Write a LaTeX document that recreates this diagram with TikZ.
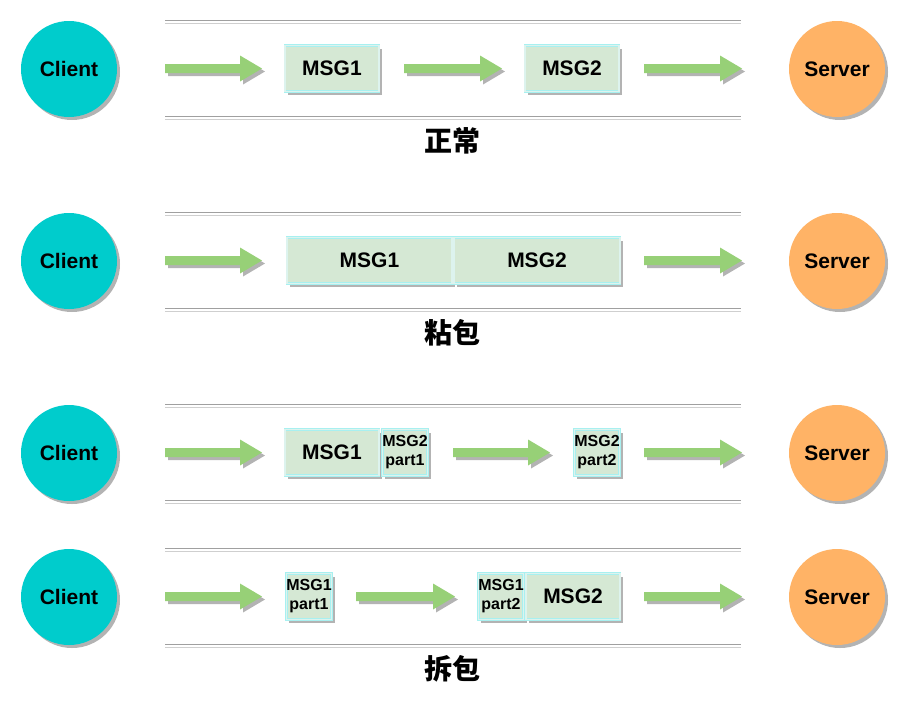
\documentclass[tikz,border=0pt]{standalone}
\usepackage{fontspec}
\setmainfont{Liberation Sans}
\newfontfamily\cjk{Noto Sans CJK SC}
\usetikzlibrary{shadows}
\definecolor{cli}{HTML}{00CCCC}
\definecolor{srv}{HTML}{FFB366}
\definecolor{msgf}{HTML}{D5E8D4}
\definecolor{msgd}{HTML}{A8F0F0}
\definecolor{msgi}{HTML}{DDF3EE}
\definecolor{arr}{HTML}{97D077}
\definecolor{shd}{HTML}{B3B3B3}
\definecolor{railA}{HTML}{A0A0A0}
\definecolor{railB}{HTML}{CFCFCF}
\tikzset{
 sh/.style={drop shadow={shadow xshift=3pt,shadow yshift=-3pt,fill=shd,opacity=1}},
 endpt/.style={circle, minimum size=96pt, inner sep=0pt, font=\bfseries\fontsize{21}{21}\selectfont, sh},
 client/.style={endpt, fill=cli},
 server/.style={endpt, fill=srv},
 msg/.style={draw=msgd, line width=0.8pt, double=msgi, double distance=1.2pt, fill=msgf, minimum height=46pt, inner sep=0pt, font=\bfseries\fontsize{21}{21}\selectfont, sh},
 part/.style={msg, minimum width=45pt, font=\bfseries\fontsize{16}{19}\selectfont, align=center},
 railtop/.style={draw=railA, line width=1pt},
 railbot/.style={draw=railB, line width=1pt},
 ttl/.style={font=\cjk\bfseries\fontsize{28}{28}\selectfont},
 garrow/.style={fill=arr, sh}
}
\newcommand\garr[3]{%
 \fill[garrow] (#1,#3-4.5) -- (#2-22,#3-4.5) -- (#2-22,#3-13) -- (#2,#3) -- (#2-22,#3+13) -- (#2-22,#3+4.5) -- (#1,#3+4.5) -- cycle;}
\newcommand\rails[2]{%
 \draw[railtop] (165,#1) -- (741,#1);
 \draw[railbot] (165,#1+3) -- (741,#1+3);
 \draw[railtop] (165,#2) -- (741,#2);
 \draw[railbot] (165,#2+3) -- (741,#2+3);}
\begin{document}
\begin{tikzpicture}[x=1pt,y=-1pt]
\useasboundingbox (0,0) rectangle (909,705);
% ---------- row 1: normal ----------
\rails{20}{116}
\node[client] (c1) at (69,69) {Client};
\node[server] (s1) at (837,69) {Server};
\node[msg, minimum width=94pt] (r1m1) at (332,68.5) {MSG1};
\node[msg, minimum width=94pt] (r1m2) at (572,68.5) {MSG2};
\garr{165}{262}{68.5}
\garr{404}{502}{68.5}
\garr{644}{742}{68.5}
\node[ttl] (t1) at (452,140.5) {正常};
% ---------- row 2: sticky ----------
\rails{212}{308}
\node[client] (c2) at (69,261) {Client};
\node[server] (s2) at (837,261) {Server};
\node[msg, minimum width=165pt] (r2m1) at (369.5,260.5) {MSG1};
\node[msg, minimum width=166pt] (r2m2) at (537,260.5) {MSG2};
\garr{165}{262}{260.5}
\garr{644}{742}{260.5}
\node[ttl] (t2) at (452,332.5) {粘包};
% ---------- row 3: split A ----------
\rails{404}{500}
\node[client] (c3) at (69,453) {Client};
\node[server] (s3) at (837,453) {Server};
\node[msg, minimum width=94pt] (r3m1) at (332,452.5) {MSG1};
\node[part] (r3p1) at (405,452.5) {MSG2\\part1};
\node[part] (r3p2) at (597,452.5) {MSG2\\part2};
\garr{165}{262}{452.5}
\garr{453}{550}{452.5}
\garr{644}{742}{452.5}
% ---------- row 4: split B ----------
\rails{548}{644}
\node[client] (c4) at (69,597) {Client};
\node[server] (s4) at (837,597) {Server};
\node[part] (r4p1) at (309,596.5) {MSG1\\part1};
\node[part] (r4p2) at (501,596.5) {MSG1\\part2};
\node[msg, minimum width=94pt] (r4m2) at (573,596.5) {MSG2};
\garr{165}{262}{596.5}
\garr{356}{455}{596.5}
\garr{644}{742}{596.5}
\node[ttl] (t3) at (452,668.5) {拆包};
\end{tikzpicture}
\end{document}
